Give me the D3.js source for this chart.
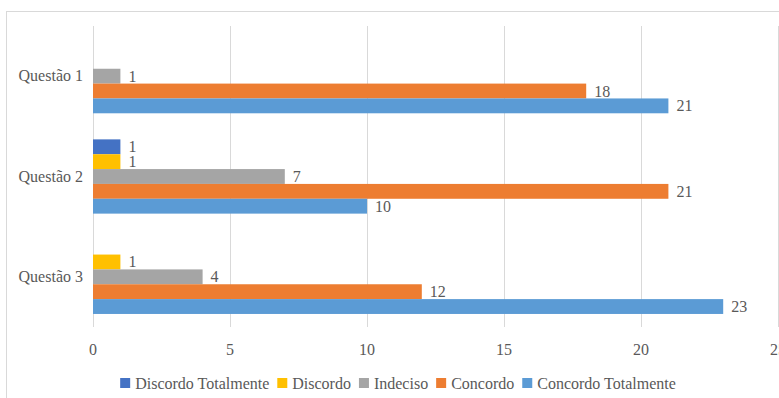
<!DOCTYPE html>
<html><head><meta charset="utf-8">
<script src="https://cdn.jsdelivr.net/npm/d3@7"></script>
<style>body{margin:0;background:#fff;}svg{display:block;}</style>
</head><body>
<script>
const categories = ["Questão 1", "Questão 2", "Questão 3"];
const seriesNames = ["Discordo Totalmente", "Discordo", "Indeciso", "Concordo", "Concordo Totalmente"];
const seriesColors = ["#4472C4", "#FFC000", "#A5A5A5", "#ED7D31", "#5B9BD5"];
const discordoTotalmente = [0, 1, 0];
const discordo = [0, 1, 1];
const indeciso = [1, 7, 4];
const concordo = [18, 21, 12];
const concordoTotalmente = [21, 10, 23];
const xTicks = [0, 5, 10, 15, 20, 25];
const seriesValues = [discordoTotalmente, discordo, indeciso, concordo, concordoTotalmente];

const W = 779, H = 398;
const svg = d3.select("body").append("svg").attr("width", W).attr("height", H)
  .style("font-family", '"Liberation Serif", "Times New Roman", Tinos');
svg.append("rect").attr("x", 6.5).attr("y", 11.5).attr("width", W + 10).attr("height", H + 10)
  .attr("fill", "#fff").attr("stroke", "#D9D9D9");

const x = d3.scaleLinear().domain([0, 25]).range([93, 778]);
const y = d3.scaleBand().domain(categories).range([26, 327]).paddingInner(0.26).paddingOuter(0.13);
const ySub = d3.scaleBand().domain(seriesNames).range([0, y.bandwidth()]);

svg.append("g").selectAll("line").data(xTicks).join("line")
  .attr("x1", d => x(d) + 0.5).attr("x2", d => x(d) + 0.5)
  .attr("y1", 26).attr("y2", 327).attr("stroke", "#D9D9D9").attr("stroke-width", 1);

svg.append("g").selectAll("text").data(xTicks).join("text")
  .attr("x", d => x(d)).attr("y", 355).attr("text-anchor", "middle")
  .attr("font-size", 16).attr("fill", "#595959").text(d => d);

svg.append("g").selectAll("text").data(categories).join("text")
  .attr("x", 83).attr("y", d => y(d) + y.bandwidth() / 2 + 5).attr("text-anchor", "end")
  .attr("font-size", 16).attr("fill", "#595959").text(d => d);

const data = [];
categories.forEach((c, ci) => seriesNames.forEach((s, si) => {
  data.push({cat: c, series: s, color: seriesColors[si], value: seriesValues[si][ci]});
}));

const g = svg.append("g");
g.selectAll("rect").data(data.filter(d => d.value > 0)).join("rect")
  .attr("x", x(0)).attr("y", d => y(d.cat) + ySub(d.series))
  .attr("width", d => x(d.value) - x(0)).attr("height", ySub.bandwidth())
  .attr("fill", d => d.color);
g.selectAll("text").data(data.filter(d => d.value > 0)).join("text")
  .attr("x", d => x(d.value) + 8).attr("y", d => y(d.cat) + ySub(d.series) + ySub.bandwidth() / 2 + 5.5)
  .attr("font-size", 16).attr("fill", "#595959").text(d => d.value);

// legend
const leg = svg.append("g");
let cx = 0;
const items = seriesNames.map((s, i) => {
  const t = leg.append("text").attr("font-size", 16).attr("fill", "#595959")
    .attr("y", 389).text(s);
  const w = t.node().getComputedTextLength();
  const it = {t, w, x: cx, color: seriesColors[i]};
  cx += 15 + w + 8;
  return it;
});
const total = cx - 8;
const startX = 398 - total / 2;
items.forEach(it => {
  leg.append("rect").attr("x", startX + it.x).attr("y", 378).attr("width", 10).attr("height", 10).attr("fill", it.color);
  it.t.attr("x", startX + it.x + 15);
});
</script>
</body></html>
